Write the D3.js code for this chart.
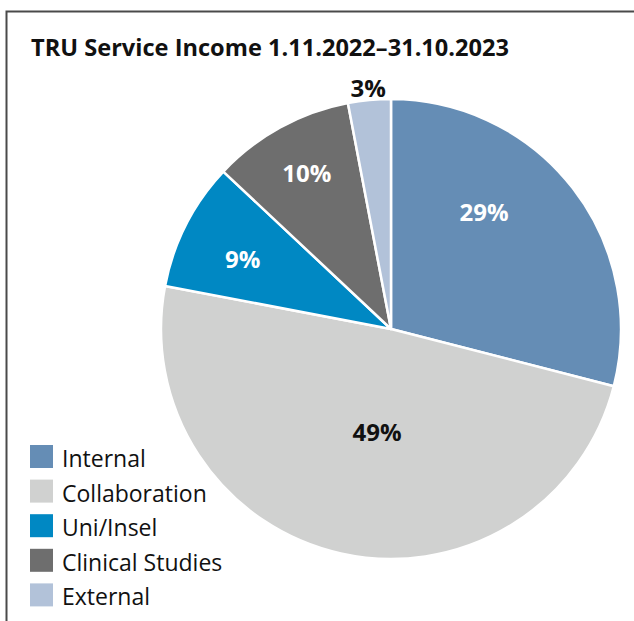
<!DOCTYPE html>
<html>
<head>
<meta charset="utf-8">
<script src="https://cdn.jsdelivr.net/npm/d3@7"></script>
<style>
  body { margin: 0; background: #fff; }
  svg { display: block; font-family: "Open Sans", "Noto Sans", sans-serif; }
</style>
</head>
<body>
<div class="content"></div>
<script>
// data
var categories = ['Internal', 'Collaboration', 'Uni/Insel', 'Clinical Studies', 'External'];
var shares = [29, 49, 9, 10, 3];
var colors = ['#658db5', '#d0d1d0', '#0088c3', '#6e6e6e', '#b2c2d9'];
var labelColors = ['#fff', '#111', '#fff', '#fff', '#111'];

var width = 634, height = 621;
var cx = 391, cy = 329, R = 230;

var svg = d3.select('.content').append('svg')
    .attr('width', width)
    .attr('height', height);

// frame: top and left only
svg.append('path')
    .attr('d', 'M6.5,' + height + 'V11.5H' + width)
    .attr('fill', 'none')
    .attr('stroke', '#4a4a4a')
    .attr('stroke-width', 2);

svg.append('text')
    .attr('x', 31)
    .attr('y', 56)
    .attr('font-size', 23.6)
    .attr('font-weight', 'bold')
    .attr('fill', '#111')
    .text('TRU Service Income 1.11.2022\u201331.10.2023');

var pie = d3.pie().sort(null).value(function(d) { return d; });
var arcs = pie(shares);
var arc = d3.arc().innerRadius(0).outerRadius(R);

var g = svg.append('g').attr('transform', 'translate(' + cx + ',' + cy + ')');

g.selectAll('path.slice')
    .data(arcs)
    .enter().append('path')
    .attr('class', 'slice')
    .attr('d', arc)
    .attr('fill', function(d, i) { return colors[i]; })
    .attr('stroke', '#fff')
    .attr('stroke-width', 2.5)
    .attr('stroke-linejoin', 'round');

// label placement: radius as fraction of R, angle shift in degrees from mid-angle
var labelFit = [
    { r: 0.65, shift: -13.7 },
    { r: 0.452, shift: -4.9 },
    { r: 0.713, shift: -1.8 },
    { r: 0.77, shift: 0.4 },
    { r: 1.05, shift: 0 }
];

g.selectAll('text.lbl')
    .data(arcs)
    .enter().append('text')
    .attr('class', 'lbl')
    .attr('transform', function(d, i) {
        var r = labelFit[i].r * R;
        var a = (d.startAngle + d.endAngle) / 2 + labelFit[i].shift * Math.PI / 180;
        return 'translate(' + (r * Math.sin(a)) + ',' + (-r * Math.cos(a)) + ')';
    })
    .attr('text-anchor', 'middle')
    .attr('dy', '0.36em')
    .attr('font-size', 24)
    .attr('font-weight', 'bold')
    .attr('fill', function(d, i) { return labelColors[i]; })
    .text(function(d) { return d.value + '%'; });

// legend
var y = d3.scaleBand().domain(categories).range([445, 618]).paddingInner(0);

var leg = svg.selectAll('g.leg')
    .data(categories)
    .enter().append('g')
    .attr('class', 'leg')
    .attr('transform', function(d) { return 'translate(30,' + y(d) + ')'; });

leg.append('rect')
    .attr('width', 23)
    .attr('height', 23)
    .attr('fill', function(d, i) { return colors[i]; });

leg.append('text')
    .attr('x', 32)
    .attr('y', 22)
    .attr('font-size', 23)
    .attr('fill', '#111')
    .text(function(d) { return d; });
</script>
</body>
</html>
